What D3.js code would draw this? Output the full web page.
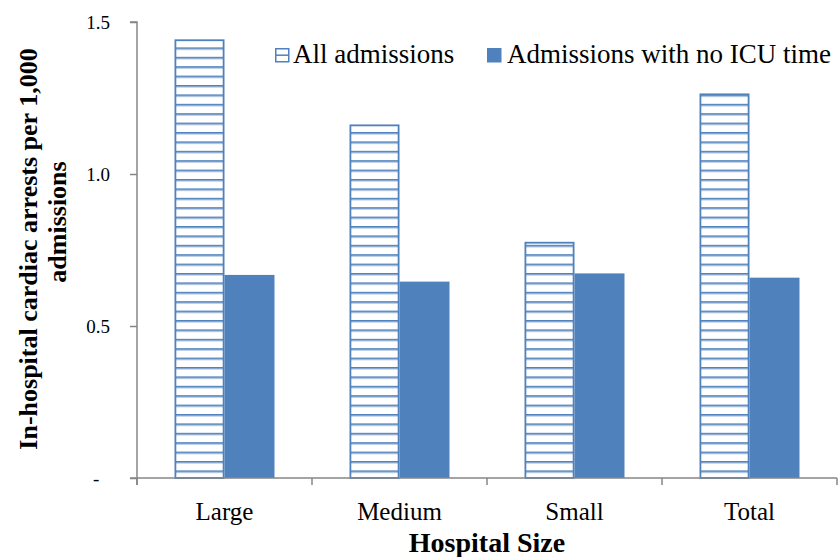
<!DOCTYPE html>
<html>
<head>
<meta charset="utf-8">
<script src="https://cdn.jsdelivr.net/npm/d3@7"></script>
<style>
  html, body { margin: 0; padding: 0; background: #fff; }
  svg { display: block; }
  svg text { font-family: "Liberation Serif", "Times New Roman", serif; }
</style>
</head>
<body>
<svg id="chart" width="838" height="557"></svg>
<script>
// Cardiac arrest rates per 1,000 admissions, by hospital size
const categories = ["Large", "Medium", "Small", "Total"];
const seriesNames = ["All admissions", "Admissions with no ICU time"];
const allAdmissions = [1.44, 1.16, 0.774, 1.262];
const noIcuAdmissions = [0.668, 0.646, 0.673, 0.659];
const yTicks = [0, 0.5, 1.0, 1.5];
const yTickLabels = ["-", "0.5", "1.0", "1.5"];

const BLUE = "#4F81BD";
const AXIS = "#868686";
const SERIF = "'Liberation Serif', 'Times New Roman', serif";

const svg = d3.select("#chart");
const plot = { left: 137, right: 837, top: 22, bottom: 478 };

const x = d3.scaleBand().domain(categories).range([plot.left, plot.right]).padding(0);
const xs = d3.scaleBand().domain(seriesNames).range([37.5, 137.5]).padding(0);
const y = d3.scaleLinear().domain([0, 1.5]).range([plot.bottom, plot.top]);

// Horizontal-stripe fill for the first series
const stripeGap = 9.4;
const defs = svg.append("defs");
const pat = defs.append("pattern")
  .attr("id", "hstripe")
  .attr("patternUnits", "userSpaceOnUse")
  .attr("x", 0)
  .attr("y", y(0) - 6.6 - 1)
  .attr("width", 20)
  .attr("height", stripeGap);
pat.append("rect").attr("width", 20).attr("height", stripeGap).attr("fill", "#fff");
pat.append("rect").attr("x", 0).attr("y", 0).attr("width", 20).attr("height", 1.6)
  .attr("fill", BLUE);
pat.append("rect").attr("x", 0).attr("y", 1.6).attr("width", 20).attr("height", 1.2)
  .attr("fill", BLUE).attr("opacity", 0.35);

const rows = categories.map((c, i) => ({
  cat: c,
  values: [
    { key: seriesNames[0], v: allAdmissions[i] },
    { key: seriesNames[1], v: noIcuAdmissions[i] }
  ]
}));

const groups = svg.append("g").selectAll("g")
  .data(rows).join("g")
  .attr("transform", d => `translate(${x(d.cat)},0)`);

groups.selectAll("rect")
  .data(d => d.values).join("rect")
  .attr("x", d => xs(d.key) + (d.key === seriesNames[0] ? 0.9 : 0))
  .attr("y", d => y(d.v))
  .attr("width", d => xs.bandwidth() - (d.key === seriesNames[0] ? 1.8 : 0))
  .attr("height", d => y(0) - y(d.v))
  .attr("fill", d => d.key === seriesNames[0] ? "url(#hstripe)" : BLUE)
  .attr("stroke", d => d.key === seriesNames[0] ? BLUE : "none")
  .attr("stroke-width", 1.8);

// Y axis
const yAxis = d3.axisLeft(y)
  .tickValues(yTicks)
  .tickSize(7)
  .tickPadding(20)
  .tickFormat((d, i) => yTickLabels[i]);
const gy = svg.append("g").attr("transform", `translate(${plot.left},0)`).call(yAxis)
  .attr("font-family", SERIF);
gy.select(".domain").attr("stroke", AXIS).attr("stroke-width", 1.5)
  .attr("d", `M-7,${plot.top}H0V${plot.bottom + 7}`);
gy.selectAll(".tick line").attr("stroke", AXIS).attr("stroke-width", 1.5);
gy.selectAll(".tick text")
  .attr("fill", "#000")
  .attr("font-size", 19)
  .attr("dy", "0.35em");
gy.selectAll(".tick text").filter(d => d === 0)
  .attr("text-anchor", "start")
  .attr("x", -44);

// X axis
const xAxis = d3.axisBottom(x).tickSize(0).tickPadding(24);
const gx = svg.append("g").attr("transform", `translate(0,${plot.bottom})`).call(xAxis)
  .attr("font-family", SERIF);
gx.select(".domain").attr("stroke", AXIS).attr("stroke-width", 1.5)
  .attr("d", `M${plot.left - 7},0H${plot.right}`);
gx.selectAll(".tick text")
  .attr("fill", "#000")
  .attr("font-size", 25)
  .attr("dy", "0.71em");
// category separators
svg.append("g").selectAll("line")
  .data(categories.map(c => x(c)).concat([x(categories[categories.length - 1]) + x.bandwidth()]))
  .join("line")
  .attr("x1", d => d).attr("x2", d => d)
  .attr("y1", plot.bottom).attr("y2", plot.bottom + 7)
  .attr("stroke", AXIS).attr("stroke-width", 1.5);

// Axis titles
svg.append("text")
  .attr("x", 487).attr("y", 552)
  .attr("text-anchor", "middle")
  .attr("font-family", SERIF)
  .attr("font-size", 28).attr("font-weight", "bold")
  .text("Hospital Size");

const yTitle = svg.append("g")
  .attr("font-family", SERIF)
  .attr("font-size", 26).attr("font-weight", "bold");
yTitle.append("text")
  .attr("transform", "translate(37,249) rotate(-90)")
  .attr("text-anchor", "middle")
  .text("In-hospital cardiac arrests per 1,000");
yTitle.append("text")
  .attr("transform", "translate(66,222) rotate(-90)")
  .attr("text-anchor", "middle")
  .text("admissions");

// Legend
const legend = svg.append("g").attr("font-family", SERIF).attr("font-size", 27);
const lg1 = legend.append("g").attr("transform", "translate(275,48)");
lg1.append("rect").attr("x", 0.75).attr("y", 0.75).attr("width", 13).attr("height", 13)
  .attr("fill", "#fff").attr("stroke", BLUE).attr("stroke-width", 1.5);
lg1.append("line").attr("x1", 1).attr("x2", 14).attr("y1", 7.2).attr("y2", 7.2)
  .attr("stroke", BLUE).attr("stroke-width", 1.5);
lg1.append("text").attr("x", 18).attr("y", 15).text(seriesNames[0]);

const lg2 = legend.append("g").attr("transform", "translate(487,48)");
lg2.append("rect").attr("width", 14.5).attr("height", 14.5).attr("fill", BLUE);
lg2.append("text").attr("x", 20).attr("y", 15).text(seriesNames[1]);
</script>
</body>
</html>
